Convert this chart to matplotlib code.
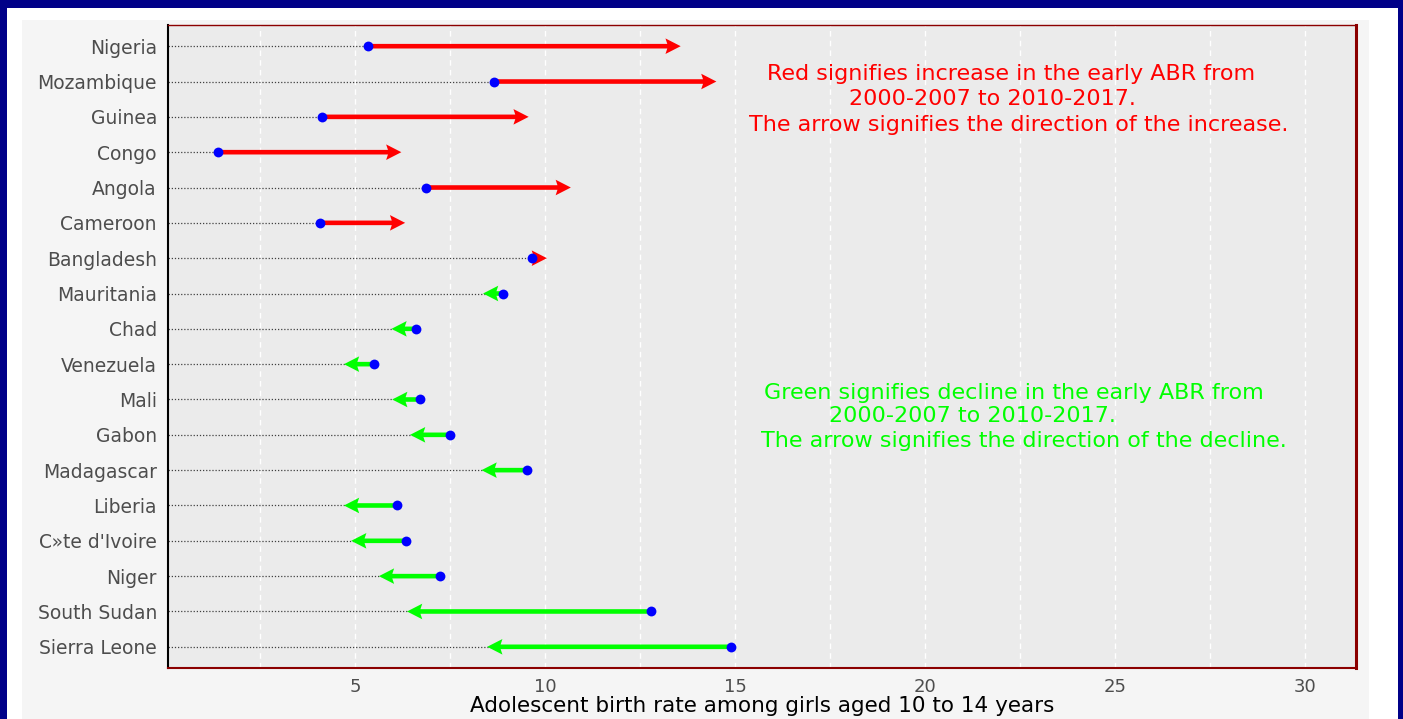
import matplotlib.pyplot as plt
import numpy as np
from matplotlib.patches import Rectangle

plt.rcParams['font.family'] = ['DejaVu Sans']

# countries listed top to bottom
countries = ["Nigeria", "Mozambique", "Guinea", "Congo", "Angola", "Cameroon",
             "Bangladesh", "Mauritania", "Chad", "Venezuela", "Mali", "Gabon",
             "Madagascar", "Liberia", "C»te d'Ivoire", "Niger", "South Sudan",
             "Sierra Leone"]
# early ABR 2000-2007 (blue points) and 2010-2017 (arrow tips)
abr_2000 = [5.34, 8.67, 4.12, 1.39, 6.87, 4.08, 9.65, 8.89, 6.60, 5.49,
            6.72, 7.51, 9.52, 6.10, 6.35, 7.24, 12.78, 14.90]
abr_2010 = [13.57, 14.51, 9.57, 6.22, 10.68, 6.32, 10.05, 8.37, 5.96, 4.71,
            5.98, 6.45, 8.33, 4.71, 4.90, 5.63, 6.37, 8.48]
major_ticks = [5, 10, 15, 20, 25, 30]
minor_ticks = [2.5, 7.5, 12.5, 17.5, 22.5, 27.5]

W, H = 1403, 719
fig = plt.figure(figsize=(W / 100, H / 100), dpi=100)
fig.patch.set_facecolor('#000088')
# white inner frame and light grey plot background
fig.patches.append(Rectangle((7 / W, 0), (1398 - 7) / W, (H - 8) / H,
                             transform=fig.transFigure, facecolor='white',
                             edgecolor='none', zorder=-10))
fig.patches.append(Rectangle((22 / W, 0), (1369 - 22) / W, (H - 20) / H,
                             transform=fig.transFigure, facecolor='#F5F5F5',
                             edgecolor='none', zorder=-9))

ax = fig.add_axes([168 / W, (H - 668) / H, 1188 / W, 643 / H])
ax.set_facecolor('#EBEBEB')

ypos = np.arange(len(countries))[::-1] + 1

# dotted guides from 0 to the 2000-2007 value
ax.hlines(ypos, 0, abr_2000, colors='#404040', linestyles=(0, (1, 1.5)),
          lw=0.9, zorder=2)

for s, e, y in zip(abr_2000, abr_2010, ypos):
    col = '#FF0000' if e > s else '#00FF00'
    ax.arrow(s, y, e - s, 0, width=0.13, head_width=0.44, head_length=0.4,
             length_includes_head=True, overhang=0.12, color=col, lw=0,
             zorder=3)

ax.scatter(abr_2000, ypos, s=50, color='#0000FF', zorder=4, linewidths=0)

ax.set_xlim(0.08, 31.34)
ax.set_ylim(0.4, len(countries) + 0.6)
ax.set_xticks(major_ticks)
ax.set_xticklabels([str(t) for t in major_ticks])
ax.set_xticks(minor_ticks, minor=True)
ax.set_yticks(ypos)
ax.set_yticklabels(countries)
ax.grid(which='both', axis='x', color='white', linestyle=(0, (4, 3)), lw=1)
ax.set_axisbelow(True)
ax.tick_params(which='both', length=0)
ax.tick_params(axis='y', labelsize=13.5, labelcolor='#4D4D4D', pad=8)
ax.tick_params(axis='x', labelsize=13, labelcolor='#4D4D4D', pad=7)
ax.set_xlabel("Adolescent birth rate among girls aged 10 to 14 years",
              fontsize=15.5, color='black', labelpad=0)

ax.spines['left'].set_color('black')
ax.spines['left'].set_linewidth(1.5)
ax.spines['right'].set_color('#8B0000')
ax.spines['right'].set_linewidth(2.2)
ax.spines['top'].set_color('#8B0000')
ax.spines['top'].set_linewidth(1.0)
ax.spines['bottom'].set_color('#8B0000')
ax.spines['bottom'].set_linewidth(1.5)

red_lines = ["Red signifies increase in the early ABR from",
             "2000-2007 to 2010-2017.",
             "The arrow signifies the direction of the increase."]
green_lines = ["Green signifies decline in the early ABR from",
               "2000-2007 to 2010-2017.",
               "The arrow signifies the direction of the decline."]
for txt, (x, y) in zip(red_lines, [(0.710, 0.924), (0.694, 0.885), (0.716, 0.845)]):
    ax.text(x, y, txt, transform=ax.transAxes, ha='center', va='center',
            color='#FF0000', fontsize=16)
for txt, (x, y) in zip(green_lines, [(0.712, 0.428), (0.677, 0.392), (0.7205, 0.353)]):
    ax.text(x, y, txt, transform=ax.transAxes, ha='center', va='center',
            color='#00FF00', fontsize=16)

fig.savefig('out.png', dpi=100, facecolor=fig.get_facecolor())
